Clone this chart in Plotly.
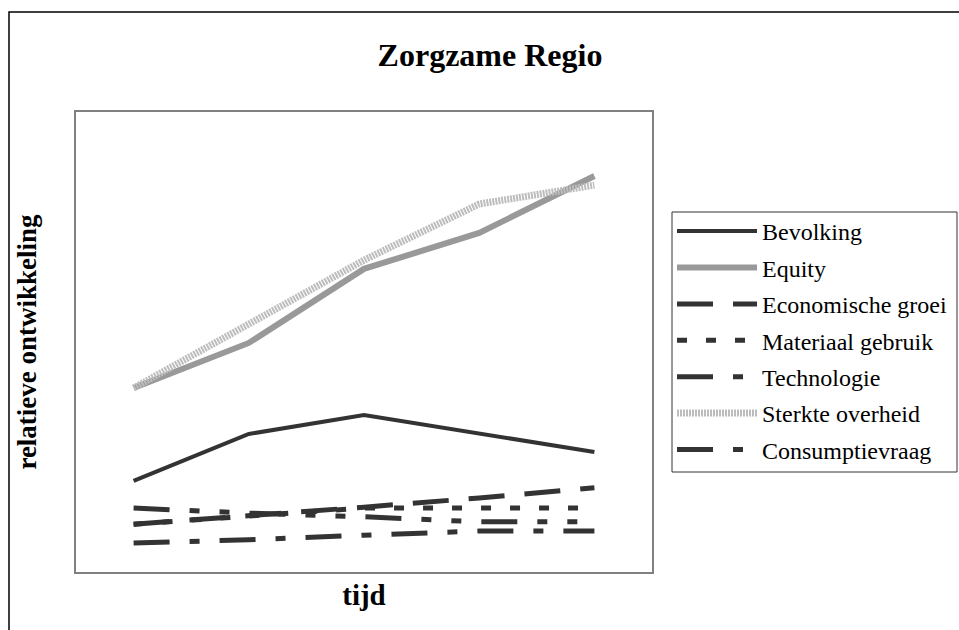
import plotly.graph_objects as go

###############################################################################
# Data (relative scale 0-100)

tijd = [1, 2, 3, 4, 5]

bevolking = [19.8, 30.0, 34.1, 30.0, 26.1]
equity = [40.0, 49.8, 65.9, 73.7, 86.1]
economische_groei = [10.4, 12.2, 14.1, 16.1, 18.3]
materiaal_gebruik = [10.4, 12.2, 13.9, 13.9, 13.9]
technologie = [13.9, 12.8, 12.0, 10.9, 10.9]
sterkte_overheid = [40.0, 54.1, 67.8, 80.0, 84.1]
consumptievraag = [6.3, 7.0, 8.0, 8.9, 8.9]

###############################################################################
# Figure

SERIF = "Liberation Serif, Times New Roman, serif"
DARK = "#333333"

W, H = 959, 630
L, T = 76, 112
PW, PH = 576, 460


def px_x(x):
    # window pixel -> paper x
    return (x - L) / PW


def px_y(y):
    # window pixel -> paper y
    return (T + PH - y) / PH


series = [
    ("Bevolking", bevolking, dict(color=DARK, width=4)),
    ("Equity", equity, dict(color="#999999", width=6)),
    ("Economische groei", economische_groei, dict(color=DARK, width=5, dash="36px,20px")),
    ("Materiaal gebruik", materiaal_gebruik, dict(color=DARK, width=5, dash="10px,19px")),
    ("Technologie", technologie, dict(color=DARK, width=5, dash="36px,20px,10px,20px,10px,20px")),
    ("Sterkte overheid", sterkte_overheid, dict(color="#bdbdbd", width=7, dash="2px,1px")),
    ("Consumptievraag", consumptievraag, dict(color=DARK, width=5, dash="36px,20px,10px,20px")),
]

fig = go.Figure()
for name, values, line in series:
    fig.add_trace(
        go.Scatter(
            x=tijd,
            y=values,
            mode="lines",
            name=name,
            legendgroup=name,
            line=line,
        )
    )

fig.update_layout(
    width=W,
    height=H,
    autosize=False,
    margin=dict(l=L, r=W - L - PW, t=T, b=H - T - PH, autoexpand=False),
    paper_bgcolor="white",
    plot_bgcolor="white",
    font=dict(family=SERIF, color="black"),
    title=dict(
        text="<b>Zorgzame Regio</b>",
        x=490 / W,
        xanchor="center",
        y=1 - 55 / H,
        yanchor="middle",
        font=dict(family=SERIF, size=32, color="black"),
    ),
    xaxis=dict(
        range=[0.5, 5.5],
        showticklabels=False,
        ticks="",
        showgrid=False,
        zeroline=False,
        showline=True,
        linecolor="#808080",
        linewidth=2,
        mirror=True,
        title=dict(text="<b>tijd</b>", standoff=12, font=dict(family=SERIF, size=29)),
    ),
    yaxis=dict(
        range=[0, 100],
        showticklabels=False,
        ticks="",
        showgrid=False,
        zeroline=False,
        showline=True,
        linecolor="#808080",
        linewidth=2,
        mirror=True,
        title=dict(text="<b>relatieve ontwikkeling</b>", standoff=30, font=dict(family=SERIF, size=27)),
    ),
    legend=dict(
        x=px_x(672),
        xanchor="left",
        y=px_y(209),
        yanchor="top",
        bgcolor="rgba(0,0,0,0)",
        borderwidth=0,
        itemwidth=80,
        tracegroupgap=2.2,
        font=dict(family=SERIF, size=24, color="black"),
    ),
    shapes=[
        # outer chart border
        dict(
            type="rect",
            xref="paper",
            yref="paper",
            x0=px_x(9),
            x1=px_x(975),
            y0=px_y(645),
            y1=px_y(12),
            line=dict(color="black", width=1.5),
            fillcolor="rgba(0,0,0,0)",
            layer="below",
        ),
        # legend box
        dict(
            type="rect",
            xref="paper",
            yref="paper",
            x0=px_x(672),
            x1=px_x(957),
            y0=px_y(472),
            y1=px_y(212),
            line=dict(color="#333333", width=1),
            fillcolor="white",
            layer="below",
        ),
    ],
)

# drop the default body margin so the figure fills the window
fig.write_html(
    "out.html",
    config={"displayModeBar": False},
    post_script="document.body.style.margin='0';document.body.style.overflow='hidden';",
)
